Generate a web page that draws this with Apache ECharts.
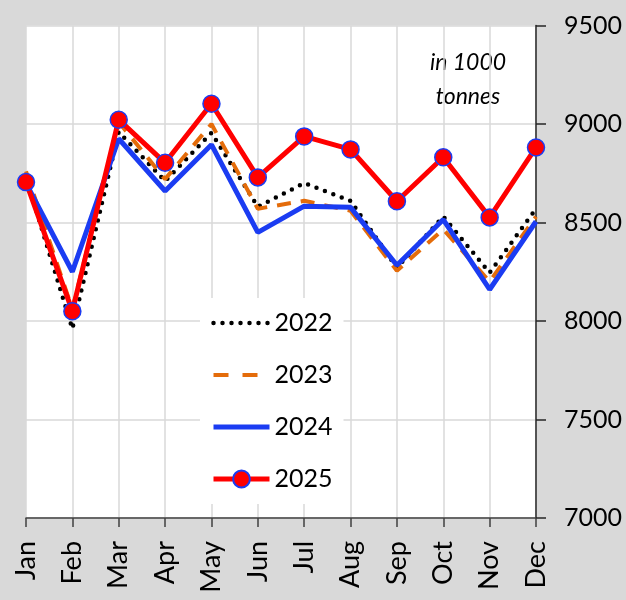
<!DOCTYPE html>
<html>
<head>
<meta charset="utf-8">
<script src="https://cdn.jsdelivr.net/npm/echarts@6/dist/echarts.min.js"></script>
<style>
html,body{margin:0;padding:0;background:#d9d9d9;}
#c{width:626px;height:600px;}
</style>
</head>
<body>
<div id="c"></div>
<script>
const months = ['Jan','Feb','Mar','Apr','May','Jun','Jul','Aug','Sep','Oct','Nov','Dec'];
const yTicks = [7000, 7500, 8000, 8500, 9000, 9500];
const s2022 = [8730, 7960, 8960, 8710, 8955, 8580, 8700, 8610, 8270, 8530, 8245, 8570];
const s2023 = [8760, 8060, 9010, 8720, 9000, 8570, 8610, 8560, 8255, 8465, 8200, 8530];
const s2024 = [8700, 8250, 8925, 8660, 8895, 8450, 8583, 8577, 8283, 8515, 8160, 8505];
const s2025 = [8705, 8050, 9022, 8803, 9103, 8729, 8937, 8871, 8608, 8831, 8526, 8881];
const unitLines = ['in 1000', 'tonnes'];

const FONT = 'Lato';
const BLACK = '#000000', ORANGE = '#e46c0a', BLUE = '#1b3cf2', RED = '#ff0000';
const dotStyle = {color: BLACK, width: 4.5, type: [0, 9], cap: 'round'};
const dashStyle = {color: ORANGE, width: 4, type: [14, 10]};
const blueStyle = {color: BLUE, width: 5};
const redStyle = {color: RED, width: 5};

const chart = echarts.init(document.getElementById('c'), null, {renderer:'canvas'});
chart.setOption({
  backgroundColor: '#d9d9d9',
  animation: false,
  grid: {left: 26, right: 90, top: 25.5, bottom: 82, show: true, backgroundColor: '#ffffff', borderWidth: 0},
  xAxis: {
    type: 'category', data: months, boundaryGap: false,
    axisLine: {lineStyle: {color: '#404040', width: 1.5}},
    axisTick: {show: true, length: 9, lineStyle: {color: '#404040', width: 1.5}},
    axisLabel: {rotate: 90, margin: 23, fontFamily: FONT, fontSize: 27, color: '#000'},
    splitLine: {show: true, lineStyle: {color: '#d9d9d9', width: 1.5}}
  },
  yAxis: {
    type: 'value', position: 'right', min: yTicks[0], max: yTicks[yTicks.length-1], interval: 500,
    axisLine: {show: true, lineStyle: {color: '#262626', width: 1.5}},
    axisTick: {show: true, length: 10, lineStyle: {color: '#262626', width: 1.5}},
    axisLabel: {margin: 28, fontFamily: FONT, fontSize: 25, color: '#000', formatter: v => String(v)},
    splitLine: {show: true, lineStyle: {color: '#d9d9d9', width: 1.5}}
  },
  legend: {
    orient: 'vertical', left: 200, top: 298,
    backgroundColor: '#ffffff', padding: [11, 11, 11, 11],
    itemWidth: 56, itemHeight: 21, itemGap: 24,
    textStyle: {fontFamily: FONT, fontSize: 25, color: '#000', lineHeight: 28},
    data: [
      {name: '2022', lineStyle: dotStyle, itemStyle: {opacity: 0}},
      {name: '2023', lineStyle: {color: ORANGE, width: 4, type: [15, 14]}, itemStyle: {opacity: 0}},
      {name: '2024', lineStyle: blueStyle, itemStyle: {opacity: 0}},
      {name: '2025', lineStyle: redStyle}
    ]
  },
  graphic: [
    {type: 'text', x: 468, y: 63, style: {text: unitLines[0], font: 'italic 23px ' + FONT, fill: '#000', textAlign: 'center', textVerticalAlign: 'middle'}},
    {type: 'text', x: 468, y: 97, style: {text: unitLines[1], font: 'italic 23px ' + FONT, fill: '#000', textAlign: 'center', textVerticalAlign: 'middle'}}
  ],
  series: [
    {name: '2022', type: 'line', data: s2022, symbol: 'none', z: 2, lineStyle: dotStyle, itemStyle: {color: BLACK}},
    {name: '2023', type: 'line', data: s2023, symbol: 'none', z: 3, lineStyle: dashStyle, itemStyle: {color: ORANGE}},
    {name: '2024', type: 'line', data: s2024, symbol: 'none', z: 4, lineStyle: blueStyle, itemStyle: {color: BLUE}},
    {name: '2025', type: 'line', data: s2025, symbol: 'circle', symbolSize: 17, z: 5, lineStyle: redStyle,
     itemStyle: {color: RED, borderColor: BLUE, borderWidth: 1.5}}
  ]
});
</script>
</body>
</html>
